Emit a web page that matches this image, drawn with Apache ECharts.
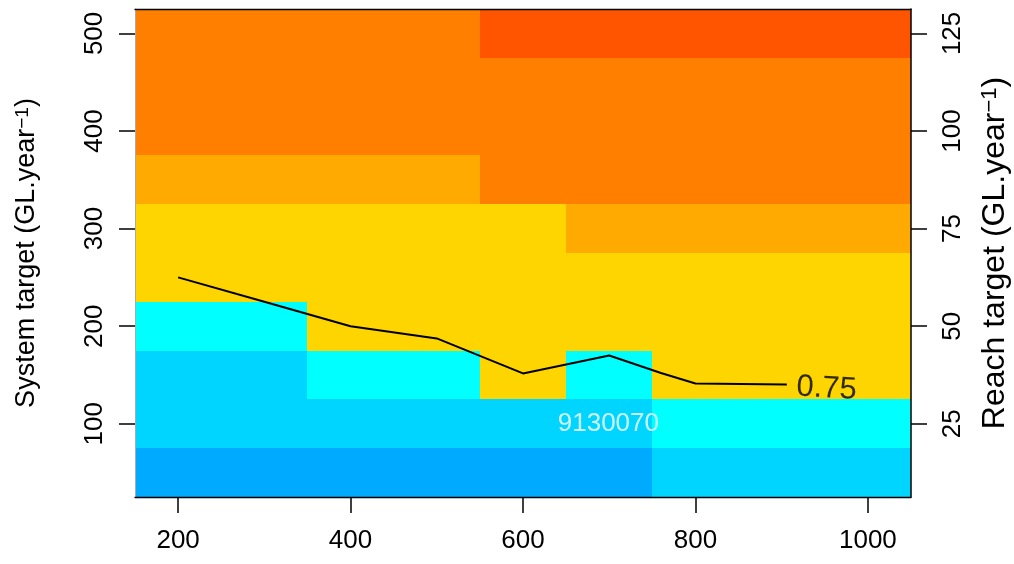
<!DOCTYPE html>
<html><head><meta charset="utf-8">
<script src="https://cdn.jsdelivr.net/npm/echarts@6/dist/echarts.min.js"></script>
<style>html,body{margin:0;padding:0;background:#fff}#c{width:1014px;height:564px}</style>
</head><body><div id="c"></div>
<script>
// ---- data ----
const xCenters = [200, 300, 400, 500, 600, 700, 800, 900, 1000];
const yCenters = [50, 100, 150, 200, 250, 300, 350, 400, 450, 500];
// level index of each cell, one array per row (bottom row first)
const row50  = [0, 0, 0, 0, 0, 0, 1, 1, 1];
const row100 = [1, 1, 1, 1, 1, 1, 2, 2, 2];
const row150 = [1, 1, 2, 2, 3, 2, 3, 3, 3];
const row200 = [2, 2, 3, 3, 3, 3, 3, 3, 3];
const row250 = [3, 3, 3, 3, 3, 3, 3, 3, 3];
const row300 = [3, 3, 3, 3, 3, 4, 4, 4, 4];
const row350 = [4, 4, 4, 4, 5, 5, 5, 5, 5];
const row400 = [5, 5, 5, 5, 5, 5, 5, 5, 5];
const row450 = [5, 5, 5, 5, 5, 5, 5, 5, 5];
const row500 = [5, 5, 5, 5, 6, 6, 6, 6, 6];
const rows = [row50, row100, row150, row200, row250, row300, row350, row400, row450, row500];
const levelColors = ['#00AAFF', '#00D5FF', '#00FFFF', '#FFD500', '#FFAA00', '#FF8000', '#FF5500'];
const contourX = [200, 300, 400, 500, 600, 700, 760, 800, 906];
const contourY = [250, 225, 200, 187.5, 151.6, 170, 152, 141.3, 140.3];
const contourLabel = '0.75';
const contourLabelPos = [952, 136];
const siteLabel = '9130070';
const siteLabelPos = [699, 100];
const xTicks = [200, 400, 600, 800, 1000];
const yTicks = [100, 200, 300, 400, 500];
const rTicks = [25, 50, 75, 100, 125];
const cellW = 100, cellH = 50;

// ---- build ----
const cells = [];
rows.forEach((r, j) => r.forEach((lvl, i) => cells.push([xCenters[i], yCenters[j], lvl])));
const FONT = '"Liberation Sans", Arial, sans-serif';
const plain = v => String(v);

const chart = echarts.init(document.getElementById('c'), null, {renderer: 'canvas'});
chart.setOption({
  animation: false,
  backgroundColor: '#fff',
  textStyle: {fontFamily: FONT},
  grid: {left: 135, right: 103, top: 9, bottom: 67, containLabel: false, outerBoundsMode: 'none'},
  xAxis: [{
    type: 'value', min: 150, max: 1050, position: 'bottom', z: 10,
    axisLine: {show: true, onZero: false, lineStyle: {color: '#000', width: 1.3}},
    axisTick: {show: true, customValues: xTicks, length: 16, lineStyle: {color: '#000', width: 1.5}},
    axisLabel: {customValues: xTicks, formatter: plain, fontSize: 26, color: '#000', margin: 31, fontFamily: FONT},
    splitLine: {show: false}
  }, {
    type: 'value', min: 150, max: 1050, position: 'top', z: 10,
    axisLine: {show: true, onZero: false, lineStyle: {color: '#000', width: 1.3}},
    axisTick: {show: false}, axisLabel: {show: false}, splitLine: {show: false}
  }],
  yAxis: [{
    type: 'value', min: 25, max: 525, position: 'left', z: 10,
    axisLine: {show: true, onZero: false, lineStyle: {color: '#aaa', width: 1}},
    axisTick: {show: true, customValues: yTicks, length: 16, lineStyle: {color: '#000', width: 1.5}},
    axisLabel: {customValues: yTicks, formatter: plain, rotate: 90, fontSize: 26, color: '#000', margin: 27, fontFamily: FONT},
    splitLine: {show: false},
    name: '{a|System target (GL.year}{s|−1}{a|)}',
    nameLocation: 'middle', nameRotate: 90, nameGap: 95,
    nameTextStyle: {
      fontFamily: FONT, color: '#000',
      rich: {
        a: {fontSize: 27, lineHeight: 27, verticalAlign: 'bottom', fontFamily: FONT, color: '#000'},
        s: {fontSize: 19, lineHeight: 19, verticalAlign: 'top', padding: [0, 0, 16, 0], fontFamily: FONT, color: '#000'}
      }
    }
  }, {
    type: 'value', min: 6.25, max: 131.25, position: 'right', z: 10,
    axisLine: {show: true, onZero: false, lineStyle: {color: '#000', width: 1.5}},
    axisTick: {show: true, customValues: rTicks, length: 16, lineStyle: {color: '#000', width: 1.5}},
    axisLabel: {customValues: rTicks, formatter: plain, rotate: 90, fontSize: 26, color: '#000', margin: 29, fontFamily: FONT},
    splitLine: {show: false},
    name: '{a|Reach target (GL.year}{s|−1}{a|)}',
    nameLocation: 'middle', nameRotate: 90, nameGap: 68,
    nameTextStyle: {
      fontFamily: FONT, color: '#000',
      rich: {
        a: {fontSize: 32, lineHeight: 32, verticalAlign: 'bottom', fontFamily: FONT, color: '#000'},
        s: {fontSize: 22, lineHeight: 22, verticalAlign: 'top', padding: [0, 0, 18, 0], fontFamily: FONT, color: '#000'}
      }
    }
  }],
  series: [{
    type: 'custom',
    xAxisIndex: 0, yAxisIndex: 0,
    clip: true,
    data: cells,
    renderItem: function (params, api) {
      const x = api.value(0), y = api.value(1), lvl = api.value(2);
      const p0 = api.coord([x - cellW / 2, y + cellH / 2]);
      const p1 = api.coord([x + cellW / 2, y - cellH / 2]);
      const x0 = Math.round(p0[0]), y0 = Math.round(p0[1]);
      const x1 = Math.round(p1[0]), y1 = Math.round(p1[1]);
      return {
        type: 'rect',
        shape: {x: x0, y: y0, width: x1 - x0, height: y1 - y0},
        style: {fill: levelColors[lvl]}
      };
    },
    z: 1
  }, {
    type: 'line',
    xAxisIndex: 0, yAxisIndex: 0,
    data: contourX.map((x, i) => [x, contourY[i]]),
    symbol: 'none',
    lineStyle: {color: '#000', width: 2},
    z: 3
  }, {
    type: 'scatter',
    xAxisIndex: 0, yAxisIndex: 0,
    data: [contourLabelPos],
    symbolSize: 1,
    itemStyle: {color: 'rgba(0,0,0,0)'},
    label: {show: true, position: 'inside', formatter: contourLabel, fontSize: 31, color: '#000', rotate: -3, fontFamily: FONT},
    z: 4
  }, {
    type: 'scatter',
    xAxisIndex: 0, yAxisIndex: 0,
    data: [siteLabelPos],
    symbolSize: 1,
    itemStyle: {color: 'rgba(0,0,0,0)'},
    label: {show: true, position: 'inside', formatter: siteLabel, fontSize: 26, color: '#fff', fontFamily: FONT},
    z: 4
  }]
});
</script></body></html>
